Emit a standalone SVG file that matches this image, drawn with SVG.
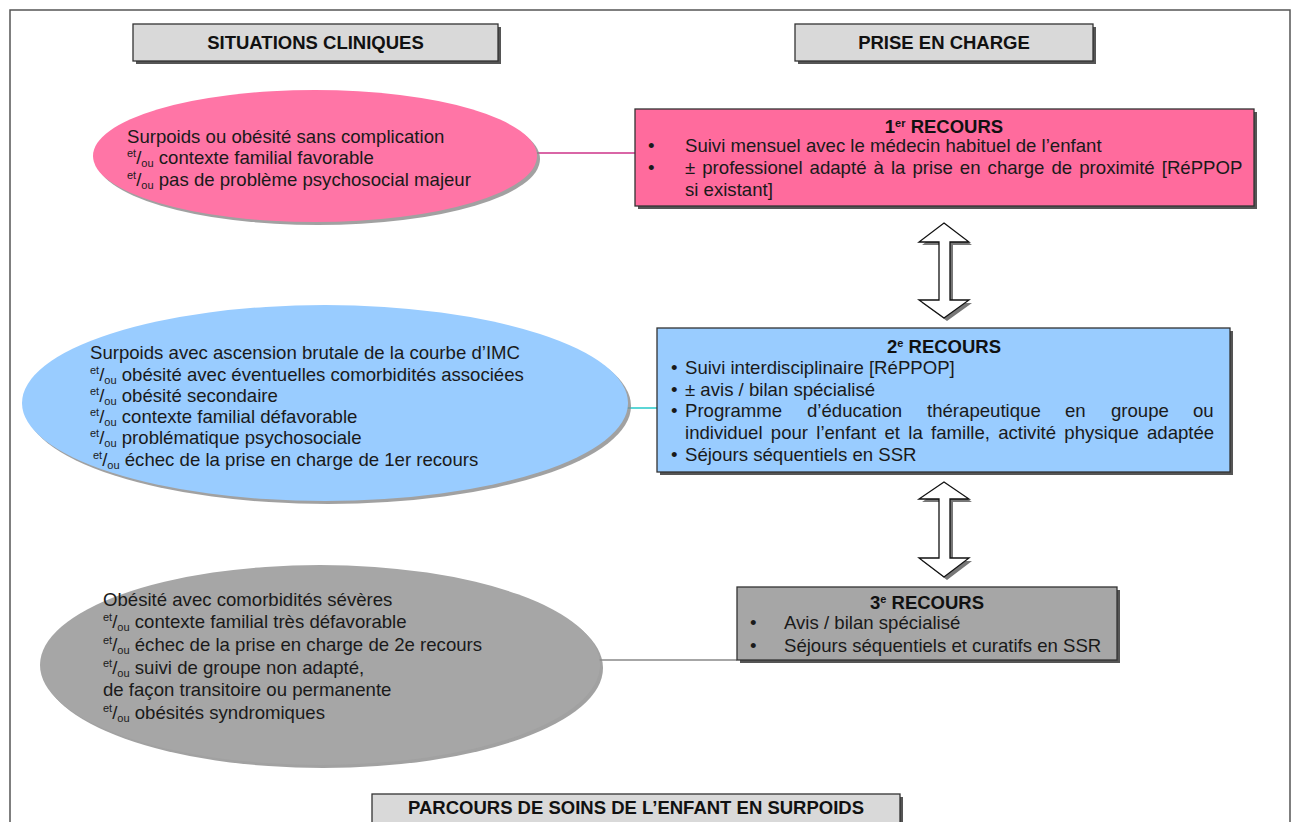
<svg xmlns="http://www.w3.org/2000/svg" width="1296" height="822" viewBox="0 0 1296 822">
<style>
  .t{font-family:"Liberation Sans",Arial,sans-serif;font-size:18.6px;fill:#1a1a1a}
  .b{font-family:"Liberation Sans",Arial,sans-serif;font-size:18.5px;font-weight:bold;fill:#111}
  .s{font-size:11px}
  .hdr{fill:#d9d9d9;stroke:#333;stroke-width:1.3}
  .sh{fill:#555}
  .esh{fill:#8a8a8a;opacity:0.8}
  .box{stroke:#333;stroke-width:1.3}
  .arr{fill:#fff;stroke:#111;stroke-width:1.3;stroke-linejoin:miter}
  .arrsh{fill:#777}
</style>
<rect width="1296" height="822" fill="#fff"/>
<path d="M10,822 V10 H1290 V822" fill="none" stroke="#555" stroke-width="1.5"/>

<g id="hdr-situations">
  <rect class="sh" x="136" y="27" width="365" height="37"/>
  <rect class="hdr" x="133" y="24" width="365" height="37"/>
  <text class="b" x="315.5" y="49" text-anchor="middle">SITUATIONS CLINIQUES</text>
</g>
<g id="hdr-prise">
  <rect class="sh" x="798" y="27" width="298" height="37"/>
  <rect class="hdr" x="795" y="24" width="298" height="37"/>
  <text class="b" x="944" y="49" text-anchor="middle">PRISE EN CHARGE</text>
</g>
<g id="hdr-parcours">
  <rect class="sh" x="375" y="797" width="528" height="40"/>
  <rect class="hdr" x="372" y="794" width="528" height="40"/>
  <text class="b" x="636" y="814" text-anchor="middle">PARCOURS DE SOINS DE L’ENFANT EN SURPOIDS</text>
</g>

<g id="connectors">
  <line x1="537" y1="153" x2="635" y2="153" stroke="#cc3388" stroke-width="1.6"/>
  <line x1="627" y1="408" x2="657" y2="408" stroke="#33cccc" stroke-width="1.6"/>
  <line x1="597" y1="660" x2="737" y2="660" stroke="#888" stroke-width="1.6"/>
  <g id="arrow-1-2">
    <polygon class="arrsh" transform="translate(3,3)" points="944,223 969,242 950,242 950,300 969,300 944,318 919,300 939,300 939,242 919,242"/>
    <polygon class="arr" points="944,223 969,242 950,242 950,300 969,300 944,318 919,300 939,300 939,242 919,242"/>
  </g>
  <g id="arrow-2-3">
    <polygon class="arrsh" transform="translate(3,3)" points="944,482 969,499 950,499 950,558 969,558 944,577 919,558 939,558 939,499 919,499"/>
    <polygon class="arr" points="944,482 969,499 950,499 950,558 969,558 944,577 919,558 939,558 939,499 919,499"/>
  </g>
</g>

<g id="ellipse-1">
  <ellipse class="esh" cx="318" cy="159" rx="222" ry="66"/>
  <ellipse cx="315" cy="156" rx="222" ry="66" fill="#ff75a6"/>
  <text class="t" x="127" y="143">Surpoids ou obésité sans complication</text>
  <text class="t" x="127" y="164"><tspan class="s" dy="-7">et</tspan><tspan dy="7">/</tspan><tspan class="s" dy="3">ou</tspan><tspan dy="-3"> contexte familial favorable</tspan></text>
  <text class="t" x="127" y="186"><tspan class="s" dy="-7">et</tspan><tspan dy="7">/</tspan><tspan class="s" dy="3">ou</tspan><tspan dy="-3"> pas de problème psychosocial majeur</tspan></text>
</g>

<g id="recours-1">
  <rect class="sh" x="638" y="112" width="619" height="97"/>
  <rect class="box" x="635" y="109" width="619" height="97" fill="#ff6b9d"/>
  <text class="b" x="944" y="133" text-anchor="middle">1<tspan class="s" dy="-6">er</tspan><tspan dy="6"> RECOURS</tspan></text>
  <text class="t" x="648" y="152">•</text>
  <text class="t" x="685" y="152">Suivi mensuel avec le médecin  habituel de l’enfant</text>
  <text class="t" x="648" y="174">•</text>
  <text class="t" x="685" y="174" word-spacing="1.9">± professionel adapté à la prise en charge de proximité [RéPPOP</text>
  <text class="t" x="685" y="196">si existant]</text>
</g>

<g id="ellipse-2">
  <ellipse class="esh" cx="328" cy="406" rx="303" ry="98"/>
  <ellipse cx="325" cy="403" rx="303" ry="98" fill="#99ccff"/>
  <text class="t" x="90" y="359">Surpoids avec ascension brutale de la courbe d’IMC</text>
  <text class="t" x="90" y="381"><tspan class="s" dy="-7">et</tspan><tspan dy="7">/</tspan><tspan class="s" dy="3">ou</tspan><tspan dy="-3"> obésité avec éventuelles comorbidités associées</tspan></text>
  <text class="t" x="90" y="402"><tspan class="s" dy="-7">et</tspan><tspan dy="7">/</tspan><tspan class="s" dy="3">ou</tspan><tspan dy="-3"> obésité secondaire</tspan></text>
  <text class="t" x="90" y="423"><tspan class="s" dy="-7">et</tspan><tspan dy="7">/</tspan><tspan class="s" dy="3">ou</tspan><tspan dy="-3"> contexte familial défavorable</tspan></text>
  <text class="t" x="90" y="444"><tspan class="s" dy="-7">et</tspan><tspan dy="7">/</tspan><tspan class="s" dy="3">ou</tspan><tspan dy="-3"> problématique psychosociale</tspan></text>
  <text class="t" x="93" y="466"><tspan class="s" dy="-7">et</tspan><tspan dy="7">/</tspan><tspan class="s" dy="3">ou</tspan><tspan dy="-3"> échec de la prise en charge de 1er recours</tspan></text>
</g>

<g id="recours-2">
  <rect class="sh" x="660" y="331" width="573" height="144"/>
  <rect class="box" x="657" y="328" width="573" height="144" fill="#99ccff"/>
  <text class="b" x="944" y="353" text-anchor="middle">2<tspan class="s" dy="-6">e</tspan><tspan dy="6"> RECOURS</tspan></text>
  <text class="t" x="671" y="374">•</text>
  <text class="t" x="685" y="374">Suivi interdisciplinaire [RéPPOP]</text>
  <text class="t" x="671" y="396">•</text>
  <text class="t" x="685" y="396">± avis / bilan spécialisé</text>
  <text class="t" x="671" y="417">•</text>
  <text class="t" y="417"><tspan x="685">Programme</tspan><tspan x="807">d’éducation</tspan><tspan x="927">thérapeutique</tspan><tspan x="1065">en</tspan><tspan x="1111">groupe</tspan><tspan x="1193">ou</tspan></text>
  <text class="t" x="685" y="439" word-spacing="3.1">individuel pour l’enfant et la famille, activité physique adaptée</text>
  <text class="t" x="671" y="461">•</text>
  <text class="t" x="685" y="461">Séjours séquentiels en SSR</text>
</g>

<g id="ellipse-3">
  <ellipse class="esh" cx="323" cy="668" rx="280" ry="100"/>
  <ellipse cx="320" cy="665" rx="280" ry="100" fill="#a6a6a6"/>
  <text class="t" x="103" y="606">Obésité avec comorbidités sévères</text>
  <text class="t" x="103" y="628"><tspan class="s" dy="-7">et</tspan><tspan dy="7">/</tspan><tspan class="s" dy="3">ou</tspan><tspan dy="-3"> contexte familial très défavorable</tspan></text>
  <text class="t" x="103" y="651"><tspan class="s" dy="-7">et</tspan><tspan dy="7">/</tspan><tspan class="s" dy="3">ou</tspan><tspan dy="-3">  échec de la prise en charge de 2e recours</tspan></text>
  <text class="t" x="103" y="674"><tspan class="s" dy="-7">et</tspan><tspan dy="7">/</tspan><tspan class="s" dy="3">ou</tspan><tspan dy="-3"> suivi de groupe non adapté,</tspan></text>
  <text class="t" x="103" y="696">de façon transitoire ou permanente</text>
  <text class="t" x="103" y="719"><tspan class="s" dy="-7">et</tspan><tspan dy="7">/</tspan><tspan class="s" dy="3">ou</tspan><tspan dy="-3"> obésités syndromiques</tspan></text>
</g>

<g id="recours-3">
  <rect class="sh" x="740" y="590" width="380" height="73"/>
  <rect class="box" x="737" y="587" width="380" height="73" fill="#a6a6a6"/>
  <text class="b" x="927" y="609" text-anchor="middle">3<tspan class="s" dy="-6">e</tspan><tspan dy="6"> RECOURS</tspan></text>
  <text class="t" x="750" y="629">•</text>
  <text class="t" x="784" y="629">Avis / bilan spécialisé</text>
  <text class="t" x="750" y="652">•</text>
  <text class="t" x="784" y="652">Séjours séquentiels et curatifs en SSR</text>
</g>
</svg>
